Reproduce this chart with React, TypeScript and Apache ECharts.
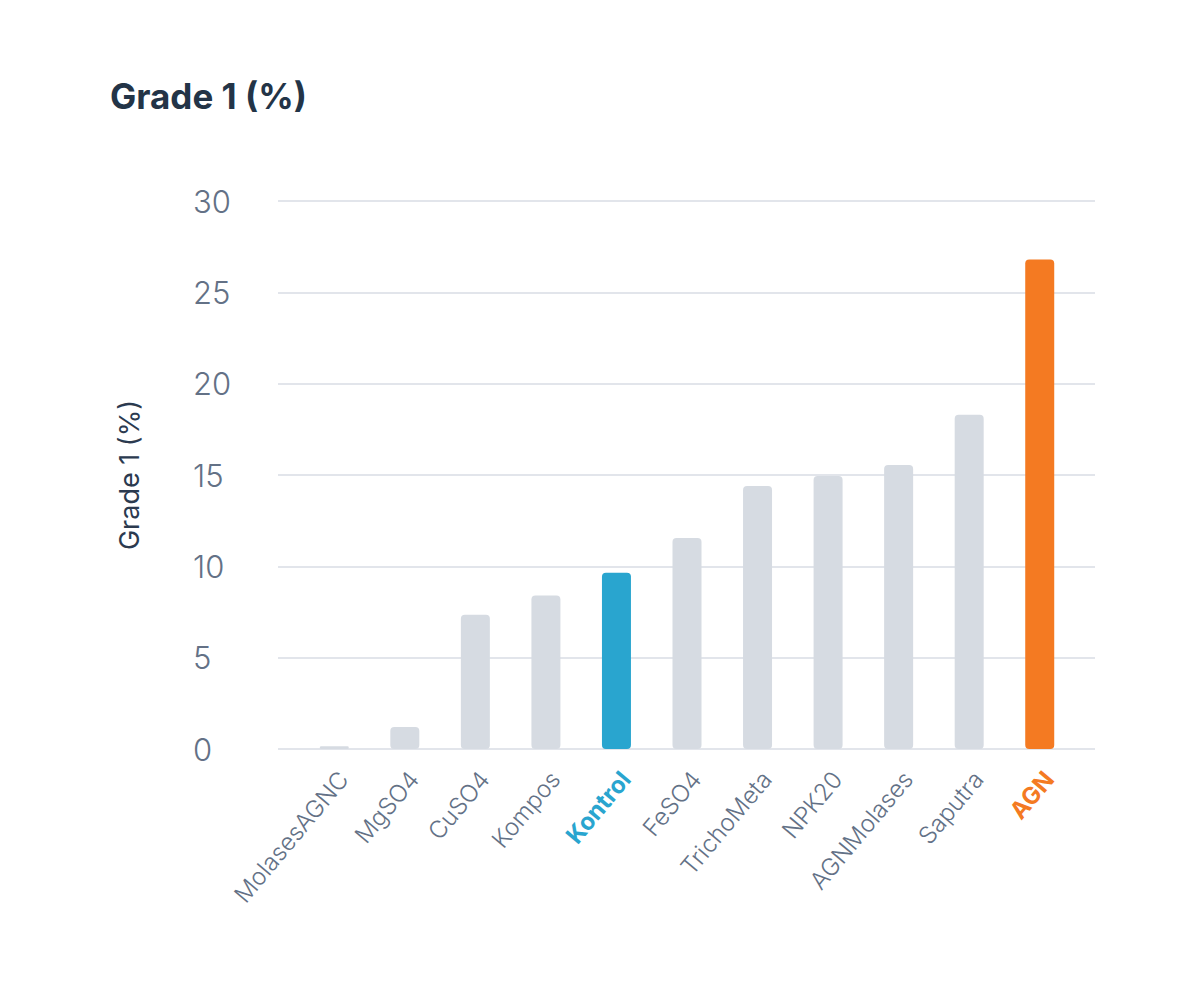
import React, { useEffect, useRef } from "react";
import * as echarts from "echarts";

const categories = [
  "MolasesAGNC",
  "MgSO4",
  "CuSO4",
  "Kompos",
  "Kontrol",
  "FeSO4",
  "TrichoMeta",
  "NPK20",
  "AGNMolases",
  "Saputra",
  "AGN",
];
const values = [0.15, 1.2, 7.35, 8.4, 9.65, 11.55, 14.4, 14.95, 15.55, 18.3, 26.8];
const yTicks = [0, 5, 10, 15, 20, 25, 30];

const GRAY = "#d6dbe2";
const BLUE = "#29a5cf";
const ORANGE = "#f47a22";
const FONT = "Inter, 'Noto Sans', sans-serif";

export default function App() {
  const ref = useRef<HTMLDivElement>(null);
  useEffect(() => {
    if (!ref.current) return;
    const chart = echarts.init(ref.current, null, { renderer: "svg" });
    const colorFor = (c: string) => (c === "Kontrol" ? BLUE : c === "AGN" ? ORANGE : GRAY);
    chart.setOption({
      animation: false,
      backgroundColor: "#ffffff",
      title: {
        text: "Grade 1 (%)",
        left: 105,
        top: 73,
        textStyle: { fontFamily: FONT, fontSize: 35, fontWeight: 700, color: "#233447" },
      },
      grid: [
        { left: 278, right: 105, top: 201, height: 548 },
        { left: 299, width: 776, top: 201, height: 548 },
      ],
      xAxis: [
        { type: "category", gridIndex: 0, data: categories, show: false },
        {
          type: "category",
          gridIndex: 1,
          data: categories,
          axisLine: { show: false },
          axisTick: { show: false },
          axisLabel: {
            rotate: 50,
            margin: 18,
            interval: 0,
            verticalAlign: "top",
            fontFamily: FONT,
            fontSize: 24,
            fontWeight: 300,
            color: "#637186",
            formatter: (v: string) =>
              v === "Kontrol" ? `{k|${v}}` : v === "AGN" ? `{a|${v}}` : v,
            rich: {
              k: { color: BLUE, fontWeight: 700, fontSize: 24, fontFamily: FONT },
              a: { color: ORANGE, fontWeight: 700, fontSize: 24, fontFamily: FONT },
            },
          },
        },
      ],
      yAxis: [
        {
          type: "value",
          gridIndex: 0,
          min: yTicks[0],
          max: yTicks[yTicks.length - 1],
          interval: 5,
          name: "Grade 1 (%)",
          nameLocation: "middle",
          nameGap: 135,
          nameTextStyle: { fontFamily: FONT, fontSize: 27, fontWeight: 400, color: "#2b3a4f" },
          axisLine: { show: false },
          axisTick: { show: false },
          axisLabel: {
            align: "left",
            margin: 85,
            fontFamily: FONT,
            fontSize: 31,
            fontWeight: 300,
            color: "#637186",
          },
          splitLine: { lineStyle: { color: "#d9dde5", width: 1.5 } },
        },
        {
          type: "value",
          gridIndex: 1,
          min: yTicks[0],
          max: yTicks[yTicks.length - 1],
          interval: 5,
          show: false,
          splitLine: { show: false },
        },
      ],
      series: [
        {
          type: "bar",
          xAxisIndex: 1,
          yAxisIndex: 1,
          barWidth: 29,
          data: values.map((v, i) => ({
            value: v,
            itemStyle: { color: colorFor(categories[i]), borderRadius: 4 },
          })),
        },
      ],
    });
    return () => chart.dispose();
  }, []);
  return (
    <div style={{ position: "absolute", left: 0, top: 0, width: 1200, height: 994, background: "#fff" }}>
      <div ref={ref} style={{ width: 1200, height: 994 }} />
    </div>
  );
}
